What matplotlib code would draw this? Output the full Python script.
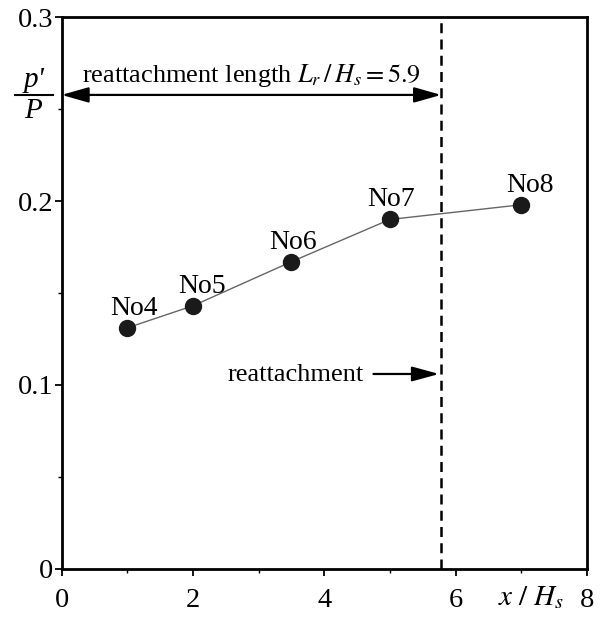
import numpy as np
import matplotlib.pyplot as plt
from matplotlib.lines import Line2D

plt.rcParams['font.family'] = ['Liberation Serif', 'DejaVu Serif']
plt.rcParams['mathtext.fontset'] = 'stix'

x_pos = [1.0, 2.0, 3.5, 5.0, 7.0]
p_ratio = [0.131, 0.143, 0.167, 0.190, 0.198]
labels = ['No4', 'No5', 'No6', 'No7', 'No8']
label_dx = [5, 6.5, 1, 1, 6]   # label offsets in points

x_reattach = 5.78
x_ticks = [0, 2, 4, 6, 8]
y_ticks = [0, 0.1, 0.2, 0.3]

fig = plt.figure(figsize=(6.1, 6.21), dpi=100)
ax = fig.add_axes([0.101, 0.0845, 0.861, 0.8875])

ax.plot(x_pos, p_ratio, color='#666666', lw=1.0, zorder=2)
ax.plot(x_pos, p_ratio, 'o', color='#1a1a1a', ms=11.5, zorder=3, ls='none')
for xi, yi, lab, dx in zip(x_pos, p_ratio, labels, label_dx):
    ax.annotate(lab, (xi, yi), xytext=(dx, 9.5), textcoords='offset points',
                ha='center', va='baseline', fontsize=20)

ax.axvline(x_reattach, color='black', lw=1.8, ls=(0, (4, 2.5)), zorder=1)

# reattachment length arrow
ax.annotate('', xy=(x_reattach, 0.2578), xytext=(0, 0.2578),
            arrowprops=dict(arrowstyle='<|-|>,head_length=1.65,head_width=0.47',
                            color='black', lw=1.6, shrinkA=0, shrinkB=0))
ax.text(0.31, 0.2648, r'reattachment length $L_r\,/\,H_s=5.9$',
        fontsize=19, ha='left', va='baseline')

# reattachment arrow
ax.annotate('', xy=(x_reattach - 0.03, 0.1059), xytext=(4.75, 0.1059),
            arrowprops=dict(arrowstyle='-|>,head_length=1.65,head_width=0.45',
                            color='black', lw=1.6, shrinkA=0, shrinkB=0))
ax.text(4.61, 0.102, 'reattachment', fontsize=19, ha='right', va='baseline')

ax.set_xlim(0, 8)
ax.set_ylim(0, 0.3)
ax.set_xticks(x_ticks)
ax.set_xticklabels(['0', '2', '4', '6', '8'])
ax.set_yticks(y_ticks)
ax.set_yticklabels(['0', '0.1', '0.2', '0.3'])
ax.set_xticks(np.arange(0, 8.1, 1), minor=True)
ax.set_yticks(np.arange(0, 0.31, 0.05), minor=True)
ax.tick_params(which='major', direction='out', length=5, width=1.3,
               labelsize=20.5)
ax.tick_params(which='minor', direction='out', length=3, width=1)
ax.tick_params(axis='x', pad=9)
ax.tick_params(axis='y', pad=1)
for s in ax.spines.values():
    s.set_linewidth(2)

# axis labels
ax.text(7.15, -0.0199, r'$x\ /\ H_s$', fontsize=21, ha='center',
        va='baseline')
fig.text(34 / 610, 1 - 87 / 621, "p'", style='italic', fontsize=21,
         ha='center', va='baseline')
fig.add_artist(Line2D([15 / 610, 53 / 610], [1 - 95 / 621, 1 - 95 / 621],
                      color='black', lw=1.5, transform=fig.transFigure))
fig.text(33 / 610, 1 - 118 / 621, 'P', style='italic', fontsize=21,
         ha='center', va='baseline')

fig.savefig('out.png', dpi=100)
